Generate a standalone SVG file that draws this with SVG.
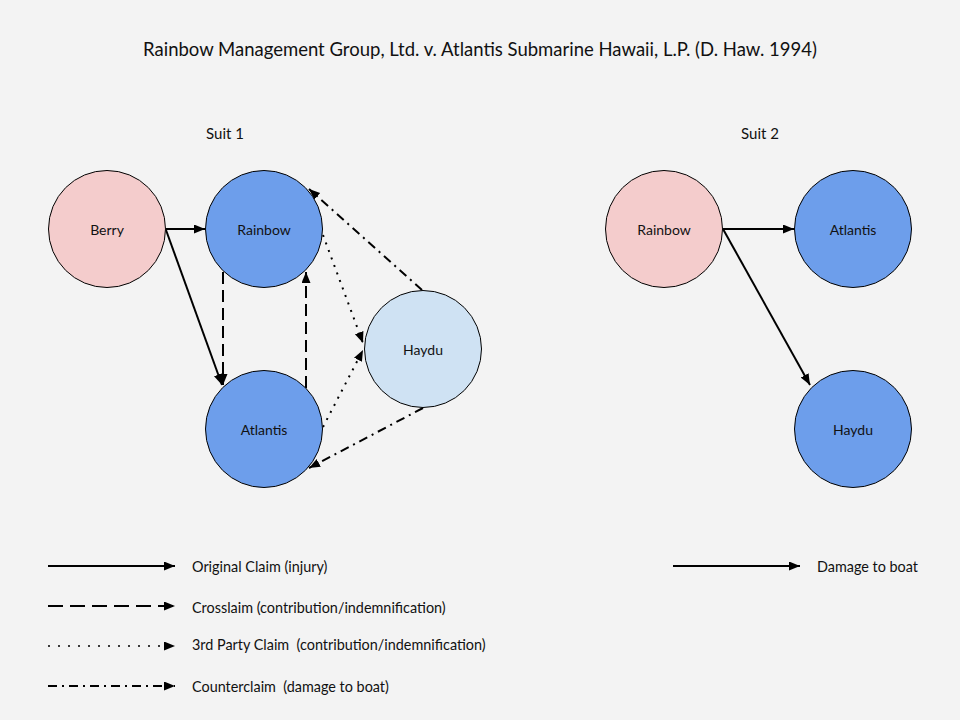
<svg xmlns="http://www.w3.org/2000/svg" width="960" height="720" viewBox="0 0 960 720">
<defs>
<marker id="ah" markerUnits="userSpaceOnUse" markerWidth="12" markerHeight="10" refX="11" refY="4.5" orient="auto">
<path d="M0,0 L11,4.5 L0,9 z" fill="#000"/>
</marker>
</defs>
<style>
text{font-family:Lato,"Open Sans","Liberation Sans",sans-serif;fill:#111;white-space:pre}
.t{font-size:18.5px}
.s{font-size:15px}
.n{font-size:14px}
.l{font-size:14.4px}
circle{stroke:#000;stroke-width:1}
.pink{fill:#f4cccc}
.blue{fill:#6d9eeb}
.lb{fill:#cfe2f3}
.c{fill:none;stroke:#000;stroke-width:2;marker-end:url(#ah)}
.dash{stroke-dasharray:12 6}
.dot{stroke-dasharray:2 6}
.dd{stroke-dasharray:9 5 2 5}
</style>
<rect width="960" height="720" fill="#f3f3f3"/>
<text class="t" x="480" y="56" text-anchor="middle">Rainbow Management Group, Ltd. v. Atlantis Submarine Hawaii, L.P. (D. Haw. 1994)</text>
<text class="s" x="225" y="139" text-anchor="middle">Suit 1</text>
<text class="s" x="760" y="139" text-anchor="middle">Suit 2</text>
<g id="connectors">
<line class="c" x1="166" y1="229" x2="205" y2="229"/>
<line class="c" x1="166" y1="230" x2="222" y2="385"/>
<line class="c dash" x1="223" y1="272" x2="223" y2="385"/>
<line class="c dash" x1="306" y1="388" x2="306" y2="272"/>
<line class="c dot" x1="323" y1="235" x2="363" y2="343"/>
<line class="c dot" x1="323" y1="427" x2="363" y2="350"/>
<line class="c dd" x1="422" y1="290" x2="309" y2="189"/>
<line class="c dd" x1="423" y1="408" x2="309" y2="468"/>
<line class="c" x1="723" y1="229" x2="794" y2="229"/>
<line class="c" x1="723" y1="229" x2="810" y2="385"/>
</g>
<g id="berry"><circle class="pink" cx="107" cy="229" r="58.5"/><text class="n" x="107" y="235" text-anchor="middle">Berry</text></g>
<g id="rainbow1"><circle class="blue" cx="264" cy="229" r="58.5"/><text class="n" x="264" y="235" text-anchor="middle">Rainbow</text></g>
<g id="atlantis1"><circle class="blue" cx="264" cy="429" r="58.5"/><text class="n" x="264" y="435" text-anchor="middle">Atlantis</text></g>
<g id="haydu1"><circle class="lb" cx="423" cy="349" r="58.5"/><text class="n" x="423" y="355" text-anchor="middle">Haydu</text></g>
<g id="rainbow2"><circle class="pink" cx="664" cy="229" r="58.5"/><text class="n" x="664" y="235" text-anchor="middle">Rainbow</text></g>
<g id="atlantis2"><circle class="blue" cx="853" cy="229" r="58.5"/><text class="n" x="853" y="235" text-anchor="middle">Atlantis</text></g>
<g id="haydu2"><circle class="blue" cx="853" cy="429" r="58.5"/><text class="n" x="853" y="435" text-anchor="middle">Haydu</text></g>
<g id="legend">
<line class="c" x1="48" y1="566" x2="175" y2="566"/>
<text class="l" x="192" y="572">Original Claim (injury)</text>
<line class="c" x1="48" y1="606" x2="175" y2="606" style="stroke-dasharray:15 7"/>
<text class="l" x="192" y="613">Crosslaim (contribution/indemnification)</text>
<line class="c" x1="48" y1="646" x2="175" y2="646" style="stroke-dasharray:2 8;stroke-width:1.5"/>
<text class="l" x="192" y="650" xml:space="preserve">3rd Party Claim  (contribution/indemnification)</text>
<line class="c" x1="48" y1="686" x2="175" y2="686" style="stroke-dasharray:9 5 2 5"/>
<text class="l" x="192" y="692" xml:space="preserve">Counterclaim  (damage to boat)</text>
<line class="c" x1="673" y1="566" x2="800" y2="566"/>
<text class="l" x="817" y="572">Damage to boat</text>
</g>
</svg>
